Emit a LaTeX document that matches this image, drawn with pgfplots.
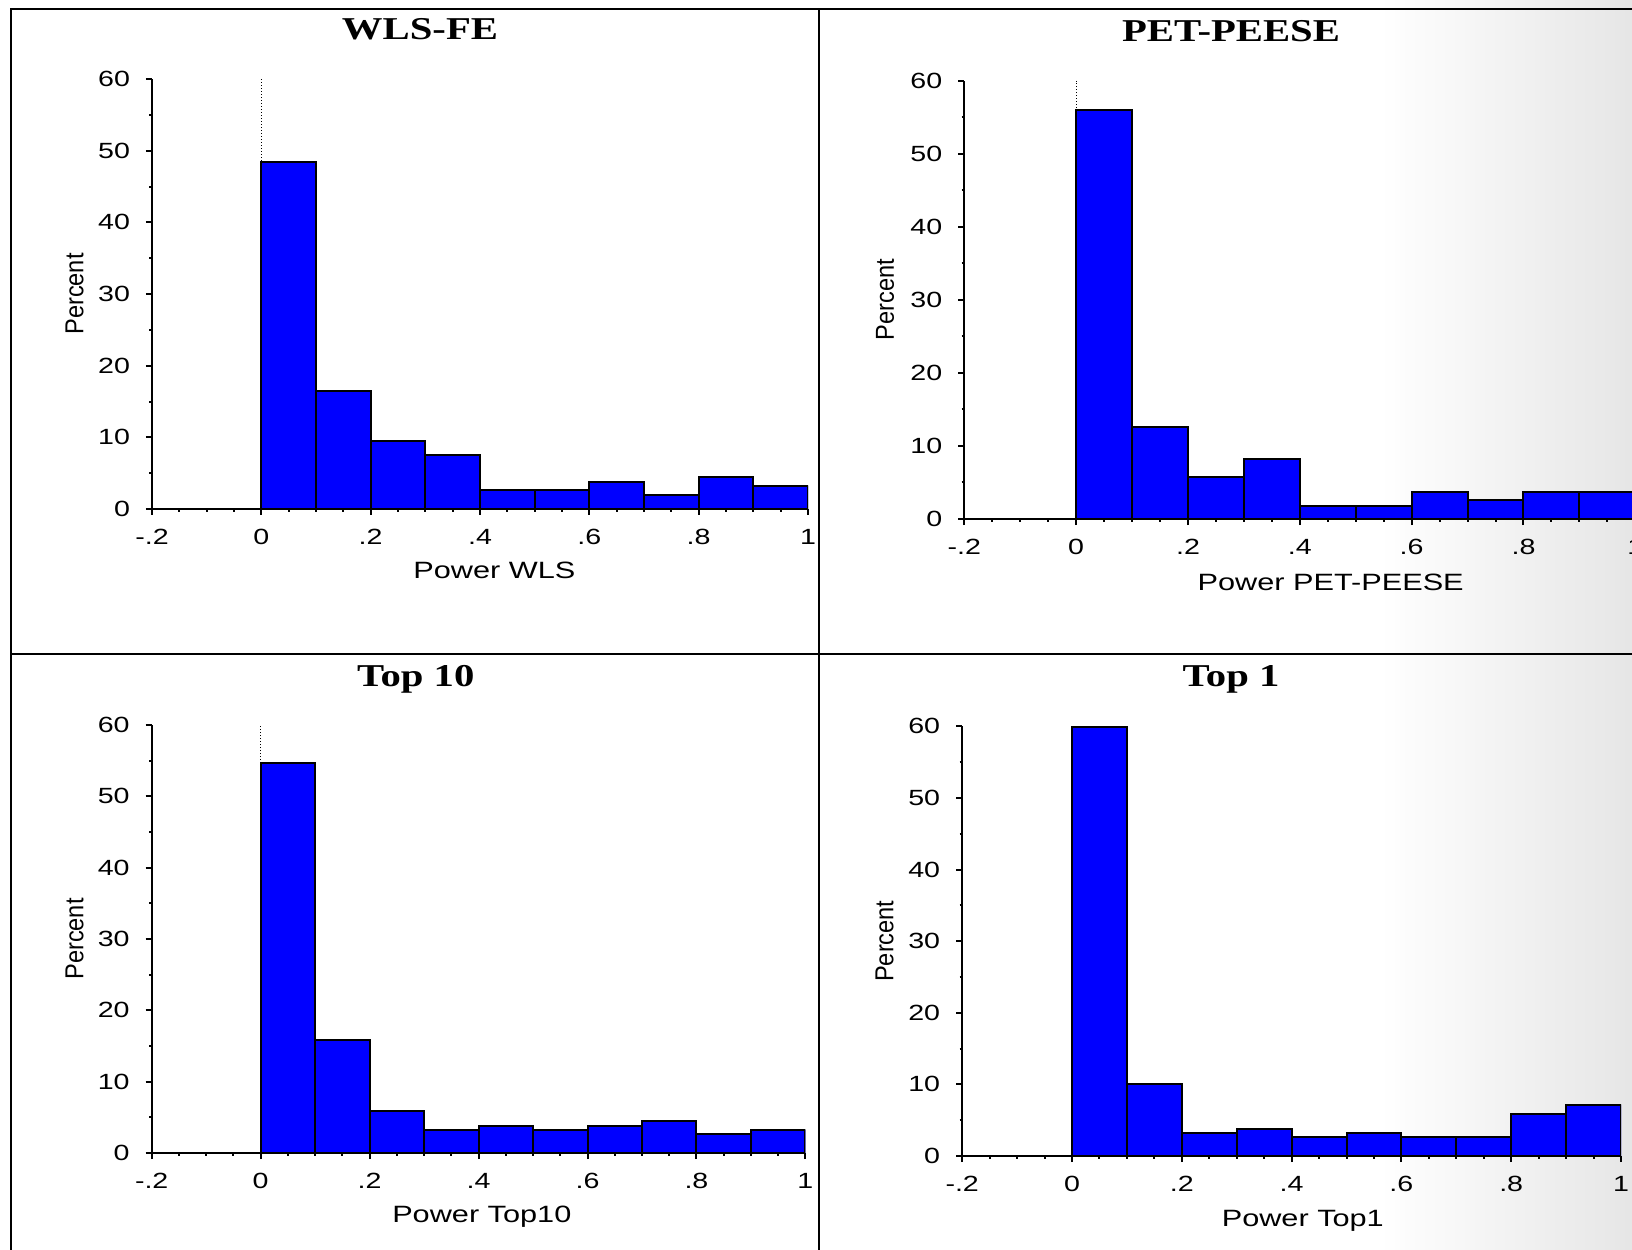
\documentclass[border=0pt]{standalone}
\usepackage{fontspec}
\setmainfont{Liberation Sans}
\newfontfamily\tickfont{Liberation Sans}[FakeStretch=1.3]
\newfontfamily\titlefont{Liberation Serif Bold}[FakeStretch=1.28]
\usepackage{graphicx}
\usepackage{pgfplots}
\pgfplotsset{compat=1.18}
\definecolor{barblue}{RGB}{0,0,255}

\pgfplotsset{histo/.style={
  scale only axis, anchor=south west,
  xmin=-0.2, xmax=1, ymin=0, ymax=60,
  axis lines=left, axis line style={-, line width=1pt, black},
  enlargelimits=false,
  xtick={-0.2,0,0.2,0.4,0.6,0.8,1}, xticklabels={-.2,0,.2,.4,.6,.8,1},
  ytick={0,10,...,60},
  minor x tick num=3, minor y tick num=1,
  tick align=outside, major tick length=3pt, minor tick length=1.3pt,
  every tick/.style={black, line width=1pt},
  /pgf/number format/assume math mode=true,
  tick label style={font=\fontsize{11}{12}\tickfont},
  yticklabel style={xshift=-4.5pt},
  xticklabel style={yshift=-3.5pt},
  xlabel style={font=\fontsize{11.8}{13}\tickfont, anchor=base},
  ylabel={\scalebox{1}[1.1]{Percent}},
  ylabel style={at={(axis description cs:-0.118,0.5)}, anchor=center, font=\fontsize{11.8}{13}\selectfont},
}}

\begin{document}
\begin{tikzpicture}
\useasboundingbox (0,0) rectangle (816pt,624.5pt);
\clip (0,0) rectangle (816pt,624.5pt);
\fill[white] (0,0) rectangle (816pt,624.5pt);
\shade[left color=white, right color=black!10] (690pt,-1pt) rectangle (817pt,626pt);

% frame
\draw[line width=1pt] (5.25pt,-10pt) -- (5.25pt,620pt) -- (830pt,620pt);
\draw[line width=1pt] (409.5pt,-10pt) -- (409.5pt,620pt);
\draw[line width=1pt] (5.25pt,297.5pt) -- (830pt,297.5pt);

% titles
\node[anchor=base, font=\fontsize{15.9}{17}\titlefont] at (210pt,604.5pt) {WLS-FE};
\node[anchor=base, font=\fontsize{15.9}{17}\titlefont] at (615.5pt,603.75pt) {PET-PEESE};
\node[anchor=base, font=\fontsize{15.9}{17}\titlefont] at (207.9pt,281.2pt) {Top 10};
\node[anchor=base, font=\fontsize{15.9}{17}\titlefont] at (615.5pt,281.2pt) {Top 1};

% Panel 1
\begin{axis}[histo, at={(76pt,370pt)}, width=328pt, height=215pt,
  xlabel={Power WLS}, xlabel style={at={(axis description cs:0.522,0)}, yshift=-34.65pt}]
\addplot[black, densely dotted, line width=0.5pt] coordinates {(0,0) (0,60)};
\addplot[ybar interval, fill=barblue, draw=black, line width=1pt] coordinates {
(0,48.4) (0.1,16.4) (0.2,9.5) (0.3,7.6) (0.4,2.7) (0.5,2.7) (0.6,3.8) (0.7,2.0) (0.8,4.5) (0.9,3.2) (1,3.2)};
\end{axis}

% Panel 2
\begin{axis}[histo, at={(482.15pt,365pt)}, width=335.5pt, height=219.25pt,
  xlabel={Power PET-PEESE}, xlabel style={at={(axis description cs:0.546,0)}, yshift=-35.9pt}]
\addplot[black, densely dotted, line width=0.5pt] coordinates {(0,0) (0,60)};
\addplot[ybar interval, fill=barblue, draw=black, line width=1pt] coordinates {
(0,56.0) (0.1,12.6) (0.2,5.8) (0.3,8.2) (0.4,1.8) (0.5,1.8) (0.6,3.7) (0.7,2.6) (0.8,3.7) (0.9,3.7) (1,3.7)};
\end{axis}

% Panel 3
\begin{axis}[histo, at={(75.85pt,48pt)}, width=326.85pt, height=214pt,
  xlabel={Power Top10}, xlabel style={at={(axis description cs:0.505,0)}, yshift=-34.75pt}]
\addplot[black, densely dotted, line width=0.5pt] coordinates {(0,0) (0,60)};
\addplot[ybar interval, fill=barblue, draw=black, line width=1pt] coordinates {
(0,54.7) (0.1,15.9) (0.2,5.9) (0.3,3.2) (0.4,3.8) (0.5,3.2) (0.6,3.8) (0.7,4.5) (0.8,2.7) (0.9,3.2) (1,3.2)};
\end{axis}

% Panel 4
\begin{axis}[histo, at={(481.1pt,46.5pt)}, width=329.4pt, height=214.85pt,
  xlabel={Power Top1}, xlabel style={at={(axis description cs:0.517,0)}, yshift=-35.2pt}]
\addplot[black, densely dotted, line width=0.5pt] coordinates {(0,0) (0,60)};
\addplot[ybar interval, fill=barblue, draw=black, line width=1pt] coordinates {
(0,59.9) (0.1,10.1) (0.2,3.2) (0.3,3.8) (0.4,2.7) (0.5,3.2) (0.6,2.7) (0.7,2.7) (0.8,5.9) (0.9,7.1) (1,7.1)};
\end{axis}
\end{tikzpicture}
\end{document}
